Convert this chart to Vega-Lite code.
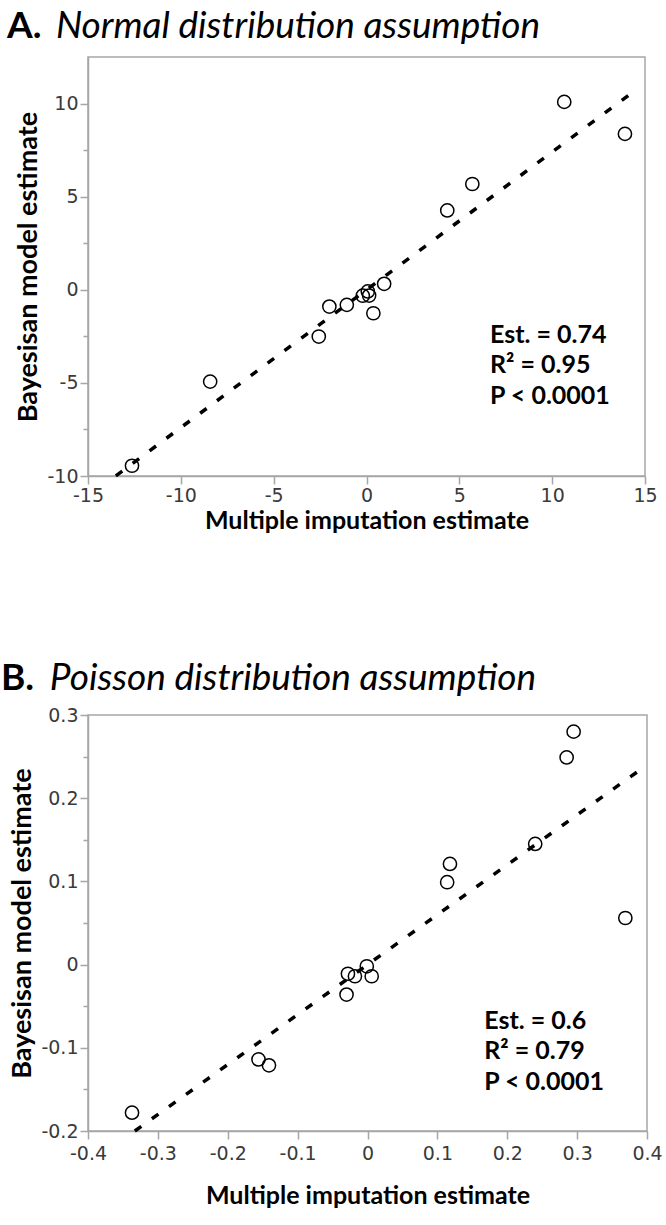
{
  "$schema": "https://vega.github.io/schema/vega-lite/v6.json",
  "background": "white",
  "padding": {"left": 0, "top": 7, "right": 5, "bottom": 5},
  "spacing": 125,
  "align": "none",
  "config": {
    "view": {"stroke": "#a6a6a6", "strokeWidth": 1.5},
    "axis": {
      "grid": false,
      "domainColor": "#a6a6a6",
      "domainWidth": 1.5,
      "tickColor": "#a6a6a6",
      "tickWidth": 1.5,
      "labelFont": "DejaVu Sans",
      "labelFontSize": 19,
      "labelColor": "#3a3a3a",
      "labelOverlap": false,
      "labelFlush": false,
      "titleFont": "Lato",
      "titleFontWeight": "bold",
      "titleColor": "black"
    }
  },
  "vconcat": [
    {
      "title": {
        "text": "A.",
        "subtitle": "\u200b\u2003\u2002\u2009\u200aNormal distribution assumption",
        "anchor": "start",
        "frame": "bounds",
        "font": "Lato",
        "fontSize": 37,
        "fontWeight": "bold",
        "color": "black",
        "subtitleFont": "Lato",
        "subtitleFontSize": 37,
        "subtitleFontStyle": "italic",
        "subtitleColor": "black",
        "subtitlePadding": -37,
        "offset": 11,
        "dx": -8
      },
      "width": 557,
      "height": 419,
      "layer": [
        {
          "data": {"values": [
            {"mi": -12.63, "bayes": -9.45},
            {"mi": -8.42, "bayes": -4.93},
            {"mi": -2.57, "bayes": -2.51},
            {"mi": -2.0, "bayes": -0.9},
            {"mi": -1.06, "bayes": -0.81},
            {"mi": -0.2, "bayes": -0.32},
            {"mi": 0.07, "bayes": -0.09},
            {"mi": 0.14, "bayes": -0.31},
            {"mi": 0.37, "bayes": -1.26},
            {"mi": 0.95, "bayes": 0.32},
            {"mi": 4.35, "bayes": 4.26},
            {"mi": 5.7, "bayes": 5.68},
            {"mi": 10.65, "bayes": 10.09},
            {"mi": 13.92, "bayes": 8.37}
          ]},
          "mark": {"type": "point", "shape": "circle", "size": 175, "filled": false, "color": "black", "strokeWidth": 1.5, "opacity": 1},
          "encoding": {
            "x": {"field": "mi", "type": "quantitative",
              "scale": {"domain": [-15, 15], "nice": false, "zero": false},
              "axis": {"title": "Multiple imputation estimate", "titleFontSize": 25, "values": [-15, -10, -5, 0, 5, 10, 15], "tickSize": 8, "labelPadding": 2, "titlePadding": 3,
                "labelExpr": "replace(datum.label, '\u2212', '-')"}},
            "y": {"field": "bayes", "type": "quantitative",
              "scale": {"domain": [-10, 12.5], "nice": false, "zero": false},
              "axis": {"title": "Bayesisan model estimate", "titleFontSize": 27, "values": [-10, -7.5, -5, -2.5, 0, 2.5, 5, 7.5, 10],
                "tickSize": {"condition": {"test": "datum.value % 5 !== 0", "value": 5}, "value": 8},
                "labelPadding": 2, "titlePadding": 4,
                "labelExpr": "datum.value % 5 === 0 ? replace(datum.label, '\u2212', '-') : ''"}}
          }
        },
        {
          "data": {"values": [
            {"mi": -13.5, "bayes": -9.99},
            {"mi": 14.6, "bayes": 10.8}
          ]},
          "mark": {"type": "line", "color": "black", "strokeWidth": 3.5, "strokeDash": [8, 13], "strokeCap": "butt"},
          "encoding": {
            "x": {"field": "mi", "type": "quantitative"},
            "y": {"field": "bayes", "type": "quantitative"}
          }
        },
        {
          "data": {"values": [
            {"label": "Est. = 0.74", "mi": 6.65, "bayes": -2.87},
            {"label": "R\u00b2 = 0.95", "mi": 6.65, "bayes": -4.49},
            {"label": "P < 0.0001", "mi": 6.65, "bayes": -6.15}
          ]},
          "mark": {"type": "text", "align": "left", "baseline": "alphabetic", "font": "Lato", "fontSize": 25, "fontWeight": "bold", "color": "black"},
          "encoding": {
            "x": {"field": "mi", "type": "quantitative"},
            "y": {"field": "bayes", "type": "quantitative"},
            "text": {"field": "label"}
          }
        }
      ]
    },
    {
      "title": {
        "text": "B.",
        "subtitle": "\u200b\u2003\u2002\u2009\u200aPoisson distribution assumption",
        "anchor": "start",
        "frame": "bounds",
        "font": "Lato",
        "fontSize": 37,
        "fontWeight": "bold",
        "color": "black",
        "subtitleFont": "Lato",
        "subtitleFontSize": 37,
        "subtitleFontStyle": "italic",
        "subtitleColor": "black",
        "subtitlePadding": -37,
        "offset": 8,
        "dx": -8
      },
      "width": 559,
      "height": 416,
      "layer": [
        {
          "data": {"values": [
            {"mi": -0.337, "bayes": -0.178},
            {"mi": -0.156, "bayes": -0.114},
            {"mi": -0.141, "bayes": -0.121},
            {"mi": -0.03, "bayes": -0.036},
            {"mi": -0.028, "bayes": -0.011},
            {"mi": -0.018, "bayes": -0.014},
            {"mi": -0.001, "bayes": -0.002},
            {"mi": 0.006, "bayes": -0.014},
            {"mi": 0.114, "bayes": 0.099},
            {"mi": 0.118, "bayes": 0.121},
            {"mi": 0.24, "bayes": 0.145},
            {"mi": 0.285, "bayes": 0.249},
            {"mi": 0.295, "bayes": 0.28},
            {"mi": 0.369, "bayes": 0.056}
          ]},
          "mark": {"type": "point", "shape": "circle", "size": 175, "filled": false, "color": "black", "strokeWidth": 1.5, "opacity": 1},
          "encoding": {
            "x": {"field": "mi", "type": "quantitative",
              "scale": {"domain": [-0.4, 0.4], "nice": false, "zero": false},
              "axis": {"title": "Multiple imputation estimate", "titleFontSize": 25, "values": [-0.4, -0.3, -0.2, -0.1, 0, 0.1, 0.2, 0.3, 0.4], "format": "~g", "tickSize": 8, "labelPadding": 5, "titlePadding": 20,
                "labelExpr": "replace(datum.label, '\u2212', '-')"}},
            "y": {"field": "bayes", "type": "quantitative",
              "scale": {"domain": [-0.2, 0.3], "nice": false, "zero": false},
              "axis": {"title": "Bayesisan model estimate", "titleFontSize": 27, "values": [-0.2, -0.15, -0.1, -0.05, 0, 0.05, 0.1, 0.15, 0.2, 0.25, 0.3], "format": "~g",
                "tickSize": {"condition": {"test": "abs(round(datum.value * 10) - datum.value * 10) > 0.01", "value": 5}, "value": 8},
                "labelPadding": 2, "titlePadding": 4,
                "labelExpr": "abs(round(datum.value * 10) - datum.value * 10) > 0.01 ? '' : replace(datum.label, '\u2212', '-')"}}
          }
        },
        {
          "data": {"values": [
            {"mi": -0.333, "bayes": -0.2},
            {"mi": 0.4, "bayes": 0.24}
          ]},
          "mark": {"type": "line", "color": "black", "strokeWidth": 3.5, "strokeDash": [8, 13], "strokeCap": "butt"},
          "encoding": {
            "x": {"field": "mi", "type": "quantitative"},
            "y": {"field": "bayes", "type": "quantitative"}
          }
        },
        {
          "data": {"values": [
            {"label": "Est. = 0.6", "mi": 0.167, "bayes": -0.077},
            {"label": "R\u00b2 = 0.79", "mi": 0.167, "bayes": -0.114},
            {"label": "P < 0.0001", "mi": 0.167, "bayes": -0.151}
          ]},
          "mark": {"type": "text", "align": "left", "baseline": "alphabetic", "font": "Lato", "fontSize": 25, "fontWeight": "bold", "color": "black"},
          "encoding": {
            "x": {"field": "mi", "type": "quantitative"},
            "y": {"field": "bayes", "type": "quantitative"},
            "text": {"field": "label"}
          }
        }
      ]
    }
  ]
}
